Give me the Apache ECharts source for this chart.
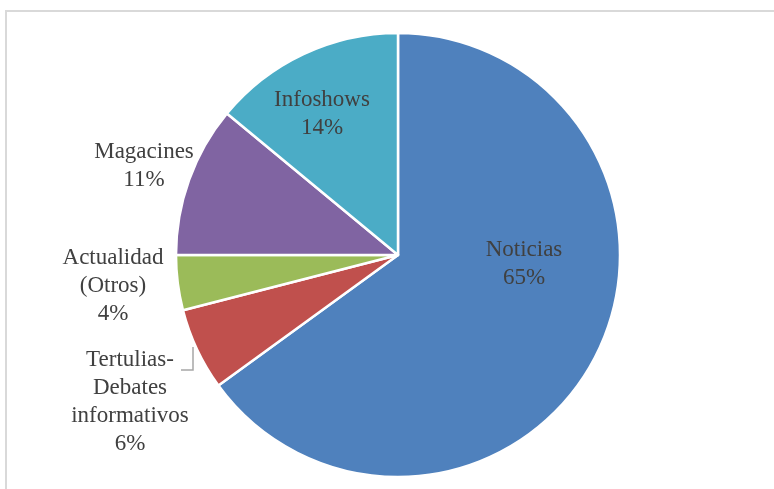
<!DOCTYPE html>
<html>
<head>
<meta charset="utf-8">
<style>
  html, body { margin: 0; padding: 0; background: #ffffff; }
  #chart { width: 774px; height: 489px; }
</style>
<script src="https://cdn.jsdelivr.net/npm/echarts@6/dist/echarts.min.js"></script>
</head>
<body>
<div id="chart"></div>
<script>
// Programme genres and their share of the total
const categories = ['Noticias', 'Tertulias-\nDebates\ninformativos', 'Actualidad\n(Otros)', 'Magacines', 'Infoshows'];
const shares = [65, 6, 4, 11, 14];
const colors = ['#4F81BD', '#C0504D', '#9BBB59', '#8064A2', '#4BACC6'];

// Where each label block is centred
const labelSpots = [[524, 264], [130, 402], [113, 286], [144, 166], [322, 114]];

const chart = echarts.init(document.getElementById('chart'), null, { renderer: 'canvas' });

const data = categories.map((name, i) => ({
  name: name,
  value: shares[i],
  itemStyle: { color: colors[i] },
  labelLine: { show: i === 1 }
}));

chart.setOption({
  backgroundColor: '#ffffff',
  animation: false,
  graphic: [{
    type: 'rect',
    shape: { x: 6, y: 11, width: 820, height: 520 },
    style: { fill: 'none', stroke: '#d9d9d9', lineWidth: 2 },
    silent: true
  }],
  series: [{
    type: 'pie',
    center: [398, 255],
    radius: 222,
    startAngle: 90,
    clockwise: true,
    avoidLabelOverlap: false,
    itemStyle: { borderColor: '#ffffff', borderWidth: 2.5 },
    label: {
      show: true,
      position: 'outside',
      fontFamily: '"Liberation Serif", "Times New Roman", serif',
      fontSize: 23,
      lineHeight: 28,
      color: '#404040',
      align: 'center',
      formatter: p => p.name + '\n' + Math.round(p.percent) + '%'
    },
    labelLine: {
      show: false,
      lineStyle: { color: '#a6a6a6', width: 1.5 }
    },
    labelLayout: function (params) {
      const spot = labelSpots[params.dataIndex];
      const out = { x: spot[0], y: spot[1], align: 'center', verticalAlign: 'middle' };
      if (params.dataIndex === 1) {
        out.labelLinePoints = [[193, 347], [193, 370], [181, 370]];
      }
      return out;
    },
    data: data
  }]
});
</script>
</body>
</html>
